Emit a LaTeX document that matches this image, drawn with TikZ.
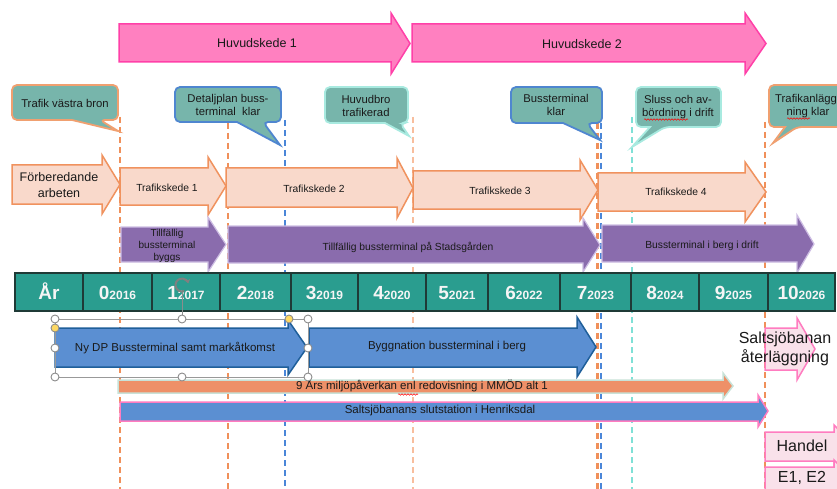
\documentclass[tikz,border=0pt]{standalone}
\usepackage{fontspec}
\setmainfont{Liberation Sans}
\usetikzlibrary{decorations.pathmorphing,arrows.meta}

\definecolor{pinkfill}{HTML}{FF80C0}
\definecolor{pinkdraw}{HTML}{FF40A8}
\definecolor{callfill}{HTML}{77B5AB}
\definecolor{corange}{HTML}{F0A070}
\definecolor{cblue}{HTML}{4F86D0}
\definecolor{ccyan}{HTML}{A8EAE0}
\definecolor{peachfill}{HTML}{F9D9CB}
\definecolor{peachdraw}{HTML}{F0925E}
\definecolor{purplefill}{HTML}{8A6CAD}
\definecolor{purpledraw}{HTML}{CDBDE3}
\definecolor{yrteal}{HTML}{2A9D8F}
\definecolor{yrline}{HTML}{1F3A36}
\definecolor{bluefill}{HTML}{5B8FD2}
\definecolor{bluedraw}{HTML}{1F5F9A}
\definecolor{orangebar}{HTML}{EE9068}
\definecolor{obarline}{HTML}{C8E2D8}
\definecolor{lightpink}{HTML}{F9E1EA}
\definecolor{pinkline}{HTML}{FF7CC0}
\definecolor{dashorange}{HTML}{F0905A}
\definecolor{dashpeach}{HTML}{F8BE9E}
\definecolor{dashblue}{HTML}{4A86D8}
\definecolor{dashcyan}{HTML}{80E0D6}
\definecolor{txt}{HTML}{1A1A1A}

% style, xleft, xheadbase, xtip, ybodytop, ybodybot, yheadtop, yheadbot
\newcommand\blockarrow[8]{\draw[#1] (#2,#5) -- (#3,#5) -- (#3,#7) -- (#4,{(#7+#8)/2}) -- (#3,#8) -- (#3,#6) -- (#2,#6) -- cycle;}
% style, x1, y1, x2, y2, baseA, baseB, tipx, tipy
\newcommand\callout[9]{\draw[#1,rounded corners=5] (#2,#3) -- (#4,#3) -- (#4,#5) -- (#7,#5) [sharp corners] -- (#8,#9) -- (#6,#5) [rounded corners=5] -- (#2,#5) -- cycle;}

\begin{document}
\begin{tikzpicture}[x=1pt,y=-1pt,
  vdash/.style={line width=2.2, dash pattern=on 6 off 4},
  hsk/.style={fill=pinkfill, draw=pinkdraw, line width=1.5},
  callbox/.style={fill=callfill, line width=1.8},
  tsk/.style={fill=peachfill, draw=peachdraw, line width=1.5},
  psk/.style={fill=purplefill, draw=purpledraw, line width=1.2},
  bsk/.style={fill=bluefill, draw=bluedraw, line width=1.5},
  obar/.style={fill=orangebar, draw=obarline, line width=1.5},
  sbar/.style={fill=bluefill, draw=pinkline, line width=1.5},
  pinkbox/.style={fill=lightpink, draw=pinkline, line width=1.5},
  lbl/.style={inner sep=0, align=center, text=txt},
  hstxt/.style={lbl, font=\fontsize{12.5}{15}\selectfont},
  calltxt/.style={lbl, font=\fontsize{11.3}{13.5}\selectfont},
  smalltxt/.style={lbl, font=\fontsize{10.3}{12.2}\selectfont},
  midtxt/.style={lbl, font=\fontsize{11.5}{14}\selectfont},
  bigtxt/.style={lbl, font=\fontsize{16}{19.5}\selectfont},
  yeartxt/.style={inner sep=0, anchor=base, text=white!96!black, font=\bfseries},
  handle/.style={circle, draw=black!45, fill=white, line width=0.9, inner sep=0, minimum size=8},
  yhandle/.style={handle, fill=yellow!55!orange!60},
  squig/.style={red, line width=0.5, decorate, decoration={snake, amplitude=0.8, segment length=3}}
]
\useasboundingbox (0,0) rectangle (837,489);
\clip (0,0) rectangle (837,489);
\fill[white] (0,0) rectangle (837,489);

% vertical dashed milestone lines
\draw[vdash, dashorange] (120,117) -- (120,489);
\draw[vdash, dashorange] (228,123) -- (228,489);
\draw[vdash, dashblue] (285,120) -- (285,489);
\draw[vdash, dashpeach] (413,117) -- (413,489);
\draw[vdash, dashorange] (597.5,123) -- (597.5,489);
\draw[vdash, dashblue] (601,123) -- (601,489);
\draw[vdash, dashcyan] (632,117) -- (632,489);
\draw[vdash, dashorange] (765,122) -- (765,489);

% Huvudskede arrows
\blockarrow{hsk}{119}{391}{410}{24}{62}{13}{74}
\blockarrow{hsk}{412}{745}{766}{24}{62}{13}{74}
\node[hstxt] (hs1) at (257,43) {Huvudskede 1};
\node[hstxt] (hs2) at (582,44) {Huvudskede 2};

% callouts
\callout{callbox, draw=corange}{12}{85}{118}{120}{72}{100}{118}{131}
\callout{callbox, draw=cblue}{175}{87}{281}{122}{237}{263}{280}{145}
\callout{callbox, draw=ccyan}{325}{87}{408}{123}{385}{400}{409}{136}
\callout{callbox, draw=cblue}{511}{87}{602}{123}{563}{587}{600}{140}
\callout{callbox, draw=ccyan}{636}{87}{721}{127}{650}{665}{632}{147}
\callout{callbox, draw=corange}{769}{85}{850}{127}{785}{797}{773}{143}
\node[calltxt] (c1) at (65,103) {Trafik västra bron};
\node[calltxt] (c2) at (228,105) {Detaljplan buss-\\terminal\ \ klar};
\node[calltxt] (c3) at (366,106) {Huvudbro\\trafikerad};
\node[calltxt] (c4) at (556,105) {Bussterminal\\klar};
\node[calltxt] (c5) at (678,107) {Sluss och av-\\bördning i drift};
\node[calltxt] (c6) at (808,106) {Trafikanlägg-\\ning klar};
\draw[squig] (644,119.5) -- (688,119.5);
\draw[squig] (787,118.5) -- (810,118.5);

% Trafikskede arrows
\blockarrow{tsk}{12}{102}{120}{165}{204}{155}{214}
\blockarrow{tsk}{120}{208}{226}{168}{205}{157}{215}
\blockarrow{tsk}{226}{397}{413}{168}{207}{158}{218}
\blockarrow{tsk}{413}{580}{598}{171}{209}{160}{220}
\blockarrow{tsk}{598}{745}{766}{173}{211}{162}{222}
\node[lbl, font=\fontsize{12.5}{16}\selectfont] (fa) at (59,185) {Förberedande\\arbeten};
\node[smalltxt] (t1) at (167,188) {Trafikskede 1};
\node[smalltxt] (t2) at (314,189) {Trafikskede 2};
\node[smalltxt] (t3) at (500,191) {Trafikskede 3};
\node[smalltxt] (t4) at (676,192) {Trafikskede 4};

% purple arrows
\blockarrow{psk}{121}{208}{226}{227}{262}{217}{272}
\blockarrow{psk}{228}{583}{600}{226}{263}{218}{272}
\blockarrow{psk}{602}{797}{814}{225}{262}{215}{273}
\node[lbl, font=\fontsize{10}{12}\selectfont] (p1) at (167,246) {Tillfällig\\bussterminal\\byggs};
\node[smalltxt] (p2) at (408,247) {Tillfällig bussterminal på Stadsgården};
\node[smalltxt] (p3) at (702,246) {Bussterminal i berg i drift};

% year row
\draw[fill=yrteal, draw=yrline, line width=1.5] (15,273) rectangle (835,311);
\foreach \xx in {83,152,220,291,358,426,488,560,631,699,768}
  \draw[yrline, line width=1.3] (\xx,273) -- (\xx,311);
\node[yeartxt, font=\fontsize{19}{22}\selectfont\bfseries] (yar) at (49,299) {År};
\foreach \cx/\bg/\sm [count=\i] in {117.5/0/2016, 186/1/2017, 255.5/2/2018, 324.5/3/2019, 392/4/2020, 457/5/2021, 524/6/2022, 595.5/7/2023, 665/8/2024, 733.5/9/2025, 801.5/10/2026}
  \node[yeartxt] (yr\i) at (\cx,299) {{\fontsize{19}{22}\selectfont\bfseries\bg}{\fontsize{12}{14}\selectfont\bfseries\sm}};

% blue arrows
\blockarrow{bsk}{55}{288}{307}{328}{367}{320}{375}
\blockarrow{bsk}{309}{577}{596}{328}{367}{317}{377}
\node[midtxt] (b1) at (175,348) {Ny DP Bussterminal samt markåtkomst};
\node[midtxt] (b2) at (447,347) {Byggnation bussterminal i berg};

% bars
\blockarrow{obar}{118}{723}{733}{380}{393}{373}{399}
\node[midtxt] (ob) at (422,386) {9 Års miljöpåverkan enl redovisning i MMÖD alt 1};
\draw[squig] (398,394.5) -- (418,394.5);
\blockarrow{sbar}{120}{758}{768}{402}{421}{395}{427}
\node[midtxt] (sb) at (440,411) {Saltsjöbanans slutstation i Henriksdal};

% pink arrows at right
\blockarrow{pinkbox}{765}{797}{815}{328}{370}{318}{380}
\blockarrow{pinkbox}{765}{834}{855}{432}{461}{425}{468}
\blockarrow{pinkbox}{765}{834}{855}{467}{496}{460}{503}
\node[bigtxt] (sa) at (785,349) {Saltsjöbanan\\återläggning};
\node[bigtxt] (ha) at (802,446) {Handel};
\node[bigtxt] (ee) at (802,478) {E1, E2};

% selection frame around the first blue arrow
\draw[black!40, line width=0.8] (55,319) rectangle (308,377);
\draw[black!45, line width=0.9] (182,292) -- (182,319);
\draw[black!50, line width=2, -{Stealth[length=4pt,width=6pt]}] (182,285) ++(70:6.5) arc[start angle=70, end angle=345, radius=6.5];
\node[handle] (h1) at (55,319) {};
\node[handle] (h2) at (182,319) {};
\node[handle] (h3) at (308,319) {};
\node[handle] (h4) at (55,348) {};
\node[handle] (h5) at (308,348) {};
\node[handle] (h6) at (55,377) {};
\node[handle] (h7) at (182,377) {};
\node[handle] (h8) at (308,377) {};
\node[yhandle] (h9) at (289,319) {};
\node[yhandle] (h10) at (55,328) {};
\end{tikzpicture}
\end{document}
